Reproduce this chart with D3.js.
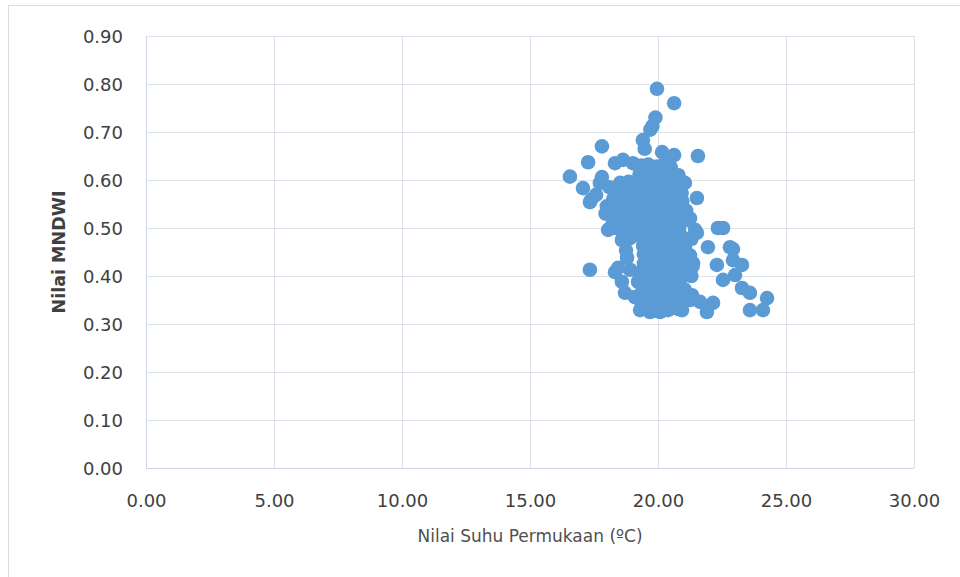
<!DOCTYPE html>
<html>
<head>
<meta charset="utf-8">
<script src="https://cdn.jsdelivr.net/npm/d3@7"></script>
<style>
  body { margin: 0; background: #fff; }
  text { font-family: "DejaVu Sans", sans-serif; }
</style>
</head>
<body>
<script>
// nilai sumbu
var xTicks = [0, 5, 10, 15, 20, 25, 30];
var yTicks = [0, 0.1, 0.2, 0.3, 0.4, 0.5, 0.6, 0.7, 0.8, 0.9];

// [suhu permukaan (C), MNDWI]
var titikAtas = [
    [19.96, 0.79], [20.63, 0.76], [19.90, 0.73], [19.78, 0.712], [19.70, 0.705],
    [19.41, 0.683], [19.48, 0.665], [20.16, 0.658], [20.63, 0.652], [21.56, 0.65]
];
var titikKiri = [
    [17.81, 0.67], [17.27, 0.637], [16.56, 0.607], [17.07, 0.583], [17.38, 0.558],
    [17.81, 0.606], [17.73, 0.594], [18.32, 0.635], [18.63, 0.642], [19.02, 0.635],
    [18.52, 0.594], [18.32, 0.569], [17.58, 0.569], [17.34, 0.554], [18.05, 0.496],
    [18.20, 0.527], [18.44, 0.548], [18.71, 0.569], [18.91, 0.59], [19.30, 0.61],
    [19.10, 0.558], [18.83, 0.527], [18.59, 0.475], [18.75, 0.454], [18.91, 0.479],
    [18.79, 0.438], [18.10, 0.585], [18.25, 0.56], [18.00, 0.545], [18.40, 0.52],
    [18.20, 0.505], [17.95, 0.53], [17.34, 0.413]
];
var titikBawahKiri = [
    [18.32, 0.408], [18.59, 0.388], [18.71, 0.365], [19.10, 0.356], [18.91, 0.413],
    [18.44, 0.417], [19.30, 0.329], [19.49, 0.344], [19.69, 0.325], [20.08, 0.325],
    [20.39, 0.329], [20.66, 0.34], [20.94, 0.329], [21.25, 0.35], [21.05, 0.371],
    [21.33, 0.36], [21.64, 0.346], [21.91, 0.325], [22.15, 0.344]
];
var titikKanan = [
    [21.45, 0.496], [22.34, 0.50], [22.54, 0.50], [21.95, 0.46], [22.81, 0.46],
    [22.93, 0.456], [21.37, 0.427], [22.30, 0.423], [22.93, 0.433], [23.28, 0.423],
    [22.54, 0.392], [23.01, 0.402], [23.28, 0.375], [23.59, 0.365], [24.26, 0.354],
    [23.59, 0.329], [24.10, 0.329], [21.52, 0.5625], [21.05, 0.5375], [21.25, 0.52],
    [21.52, 0.49], [21.05, 0.46], [21.20, 0.44], [21.35, 0.42], [21.30, 0.40]
];
var titikTengah = [
    [19.35, 0.63], [19.62, 0.632], [19.95, 0.628], [20.24, 0.633], [20.50, 0.627],
    [19.28, 0.612], [19.58, 0.61], [19.88, 0.614], [20.21, 0.609], [20.52, 0.613], [20.80, 0.61],
    [18.85, 0.596], [19.15, 0.593], [19.47, 0.597], [19.80, 0.592], [20.12, 0.595], [20.45, 0.598], [20.78, 0.591], [21.05, 0.594],
    [18.95, 0.575], [19.25, 0.578], [19.60, 0.573], [19.93, 0.576], [20.27, 0.574], [20.60, 0.577], [20.92, 0.572],
    [18.62, 0.555], [18.98, 0.556], [19.33, 0.553], [19.66, 0.558], [19.98, 0.554], [20.30, 0.557], [20.64, 0.552], [20.95, 0.556],
    [18.48, 0.538], [18.80, 0.54], [19.12, 0.536], [19.45, 0.539], [19.78, 0.535], [20.10, 0.54], [20.42, 0.537], [20.75, 0.541], [21.10, 0.536],
    [18.60, 0.52], [18.95, 0.518], [19.30, 0.522], [19.62, 0.519], [19.95, 0.521], [20.28, 0.517], [20.60, 0.52], [20.90, 0.522], [21.20, 0.516],
    [18.35, 0.50], [18.75, 0.502], [19.20, 0.498], [19.52, 0.501], [19.85, 0.497], [20.18, 0.50], [20.50, 0.503], [20.82, 0.499],
    [18.70, 0.48], [19.35, 0.482], [19.68, 0.478], [20.00, 0.481], [20.33, 0.479], [20.66, 0.483], [20.98, 0.48], [21.30, 0.477],
    [19.42, 0.463], [19.72, 0.46], [20.05, 0.465], [20.38, 0.462], [20.70, 0.464], [21.02, 0.461],
    [19.45, 0.445], [19.68, 0.447], [19.95, 0.443], [20.28, 0.446], [20.62, 0.444], [20.95, 0.448], [21.25, 0.443],
    [19.45, 0.426], [19.75, 0.428], [20.08, 0.424], [20.55, 0.427], [20.78, 0.425], [21.10, 0.429],
    [19.30, 0.407], [19.60, 0.409], [19.92, 0.405], [20.25, 0.408], [20.58, 0.406], [20.90, 0.41], [21.18, 0.404],
    [19.22, 0.388], [19.55, 0.39], [19.88, 0.386], [20.20, 0.389], [20.52, 0.387], [20.85, 0.391],
    [19.40, 0.37], [19.72, 0.372], [20.05, 0.368], [20.38, 0.371], [20.70, 0.369], [21.00, 0.373],
    [19.30, 0.35], [19.62, 0.352], [19.95, 0.348], [20.28, 0.351], [20.60, 0.349], [20.92, 0.353],
    [19.45, 0.332], [19.78, 0.334], [20.12, 0.33], [20.48, 0.333], [20.80, 0.331]
];

var dataTitik = titikAtas.concat(titikKiri, titikBawahKiri, titikKanan, titikTengah);

var width = 960, height = 577;
var plot = { left: 146, right: 914, top: 36, bottom: 468 };

var svg = d3.select("body").append("svg")
    .attr("width", width)
    .attr("height", height);

svg.append("rect")
    .attr("x", 8.5).attr("y", 5.5)
    .attr("width", 1000).attr("height", 1000)
    .style("fill", "#fff")
    .style("stroke", "#dcdcdc")
    .style("stroke-width", 1);

var x = d3.scaleLinear().domain([0, 30]).range([plot.left, plot.right]);
var y = d3.scaleLinear().domain([0, 0.9]).range([plot.bottom, plot.top]);

// garis grid
svg.append("g").selectAll("line")
    .data(yTicks)
    .enter().append("line")
    .attr("x1", plot.left).attr("x2", plot.right)
    .attr("y1", function(d) { return Math.round(y(d)) + 0.5; })
    .attr("y2", function(d) { return Math.round(y(d)) + 0.5; })
    .style("stroke", function(d) { return d === 0 ? "#cdd6e3" : "#dde2ea"; })
    .style("stroke-width", 1);

svg.append("g").selectAll("line")
    .data(xTicks)
    .enter().append("line")
    .attr("y1", plot.top).attr("y2", plot.bottom)
    .attr("x1", function(d) { return Math.round(x(d)) + 0.5; })
    .attr("x2", function(d) { return Math.round(x(d)) + 0.5; })
    .style("stroke", function(d) { return d === 0 ? "#cdd6e3" : "#dde2ea"; })
    .style("stroke-width", 1);

// sumbu
var xAxis = d3.axisBottom(x).tickValues(xTicks).tickSize(0).tickPadding(0)
    .tickFormat(d3.format(".2f"));
var yAxis = d3.axisLeft(y).tickValues(yTicks).tickSize(0).tickPadding(0)
    .tickFormat(d3.format(".2f"));

var gx = svg.append("g")
    .attr("transform", "translate(0," + 507 + ")")
    .call(xAxis);
gx.select(".domain").remove();
gx.selectAll("text")
    .attr("dy", 0).attr("y", 0)
    .style("font-size", "18px")
    .style("fill", "#404040");

var gy = svg.append("g")
    .attr("transform", "translate(" + 123 + ",0)")
    .call(yAxis);
gy.select(".domain").remove();
gy.selectAll("text")
    .attr("x", 0).attr("dy", "0.36em")
    .style("font-size", "18px")
    .style("fill", "#404040");

// titik
svg.append("g").selectAll("circle")
    .data(dataTitik)
    .enter().append("circle")
    .attr("cx", function(d) { return x(d[0]); })
    .attr("cy", function(d) { return y(d[1]); })
    .attr("r", 7.3)
    .style("fill", "#5b9bd5");

// judul sumbu
svg.append("text")
    .attr("x", (plot.left + plot.right) / 2)
    .attr("y", 542)
    .attr("text-anchor", "middle")
    .style("font-size", "17px")
    .style("fill", "#505050")
    .text("Nilai Suhu Permukaan (ºC)");

svg.append("text")
    .attr("transform", "translate(65," + (plot.top + plot.bottom) / 2 + ") rotate(-90)")
    .attr("text-anchor", "middle")
    .style("font-size", "17.5px")
    .style("font-weight", "bold")
    .style("fill", "#404040")
    .text("Nilai MNDWI");
</script>
</body>
</html>
